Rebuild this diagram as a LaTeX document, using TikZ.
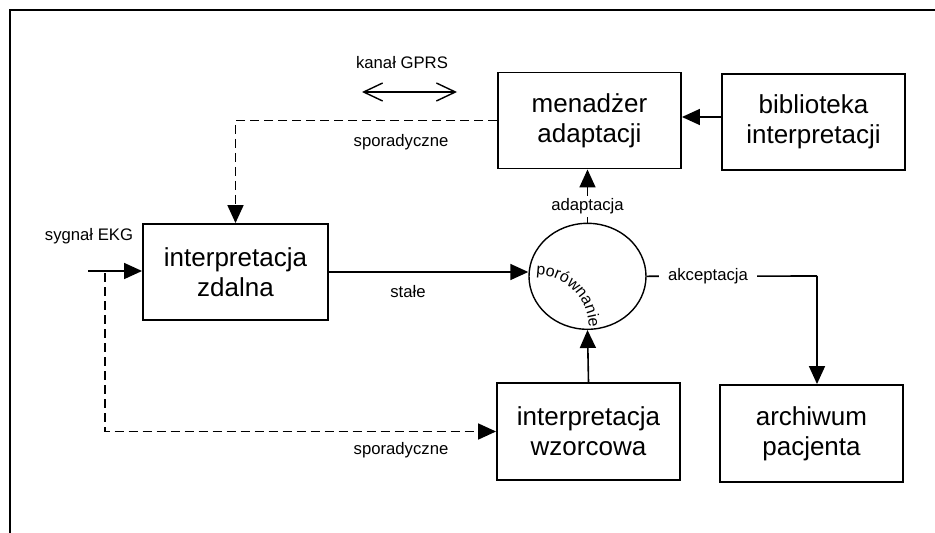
\documentclass[tikz,border=0pt]{standalone}
\usepackage{fontspec}
\setmainfont{Liberation Sans}
\usetikzlibrary{shapes.geometric,arrows.meta,decorations.text}
\tikzset{
  box/.style={draw, line width=1.9pt, minimum width=183pt, minimum height=96pt, inner sep=0pt, align=center, font=\fontsize{26}{30}\selectfont},
  lab/.style={font=\fontsize{16.7}{18}\selectfont, inner sep=0pt},
  wlab/.style={lab, fill=white, inner xsep=6pt, inner ysep=3pt},
  arr/.style={line width=1.6pt, -{Triangle[length=18pt,width=16pt]}},
  dsh/.style={line width=1.8pt, dash pattern=on 9pt off 5pt},
  darr/.style={dsh, -{Triangle[length=18pt,width=16pt]}},
}
\begin{document}
\begin{tikzpicture}[x=1pt,y=-1pt]
\useasboundingbox (0,0) rectangle (935,533);
% frame
\draw[line width=2pt] (10,533) -- (10,10) -- (935,10);
% boxes
\node[box] (men) at (589.5,120.5) {menadżer\\adaptacji};
\node[box] (bib) at (813.5,122) {biblioteka\\interpretacji};
\node[box, minimum width=185pt] (zd) at (235.5,272) {interpretacja\\zdalna};
\node[box, minimum height=97pt] (wz) at (588.5,431.5) {interpretacja\\wzorcowa};
\node[box, minimum height=97pt] (ar) at (811.5,433.5) {archiwum\\pacjenta};
% comparison circle
\node[draw, ellipse, line width=1.4pt, minimum width=117pt, minimum height=106pt, inner sep=0pt] (cmp) at (587.5,276.3) {};
\path[decorate, decoration={text along path, text align=left,
  text={|\fontsize{16}{16}\selectfont|porównanie}}]
  (536,275) .. controls (565.3,275) and (589,298.7) .. (589,329);
% coordinates
\coordinate (ekg) at (88,271);
\coordinate (tap) at (105,273);
\coordinate (akc) at (817,276);
\coordinate (g1) at (362,92);
\coordinate (g2) at (457,92);
\coordinate (bibin) at (722,117);
% connectors
\draw[arr] (bibin) -- (bibin -| men.east);
\draw[darr] (men.west) -| (zd.north);
\draw[arr] (ekg) -- (ekg -| zd.west);
\draw[darr] (tap) |- (wz.west);
\draw[arr] (zd.east) -- (cmp.west |- zd.east);
\draw[arr] (cmp.north) -- node[wlab, pos=0.3] {adaptacja} (cmp.north |- men.south);
\draw[arr] (wz.north) -- (cmp.south);
\draw[line width=1.6pt] (cmp.east) -- node[wlab, pos=0.36, inner xsep=9pt] {akceptacja} (akc);
\draw[arr] (akc) -- (akc |- ar.north);
\draw[line width=1.4pt, {Straight Barb[length=19pt,width=18pt]}-{Straight Barb[length=19pt,width=18pt]}] (g1) -- (g2);
% labels
\node[lab] (gprs) at (402,63) {kanał GPRS};
\node[lab] (sp1) at (401,142) {sporadyczne};
\node[lab] (sp2) at (401,450) {sporadyczne};
\node[lab] (st) at (408,292) {stałe};
\node[lab] (sy) at (89,236) {sygnał EKG};
\end{tikzpicture}
\end{document}
